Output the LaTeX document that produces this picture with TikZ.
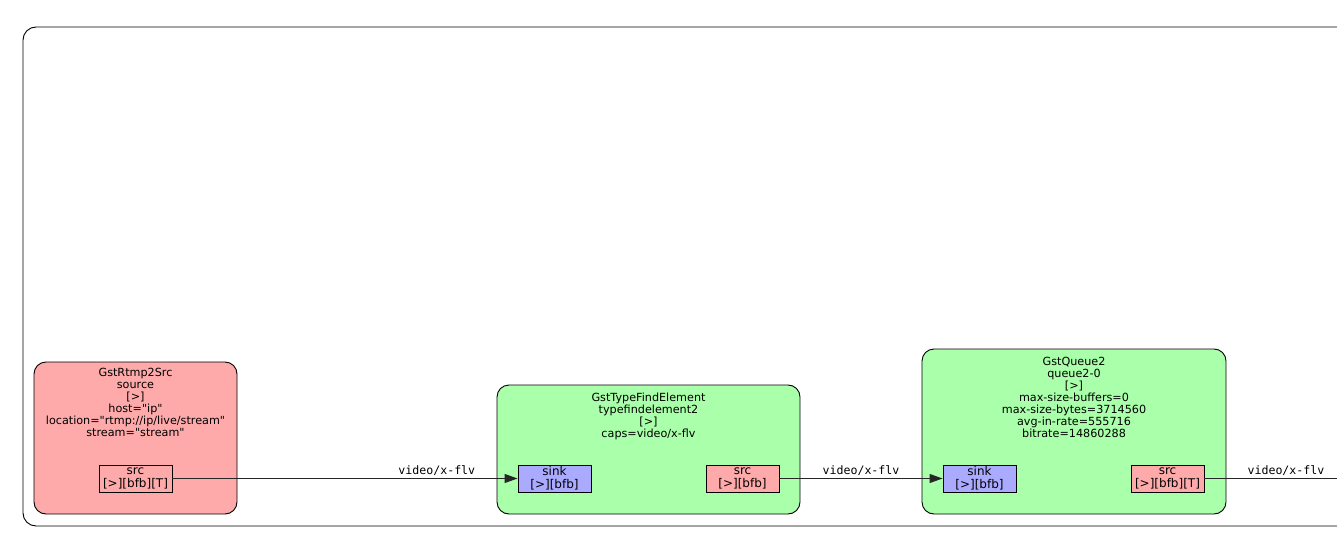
\documentclass[tikz,border=0pt]{standalone}
\usepackage{fontspec}
\setmainfont{DejaVu Sans}
\setmonofont{DejaVu Sans Mono}
\usetikzlibrary{arrows.meta}
\definecolor{srcred}{HTML}{FFAAAA}
\definecolor{elgreen}{HTML}{AAFFAA}
\definecolor{sinkblue}{HTML}{AAAAFF}
\newcommand{\dq}{\XeTeXglyph\XeTeXcharglyph"22\relax}
\tikzset{
  elem/.style={draw=black, rounded corners=12pt, line width=0.9pt},
  padbox/.style={draw=black, line width=0.9pt},
  eltext/.style={align=center, inner sep=0pt, font=\fontsize{11.2}{12}\selectfont, anchor=north},
  padtext/.style={align=center, inner sep=0pt, font=\fontsize{12}{13}\selectfont},
  link/.style={draw=black!85, line width=1.1pt},
  linkarrow/.style={link, -{Triangle[length=13pt,width=9pt]}},
  edgelabel/.style={inner sep=0pt, font=\ttfamily\fontsize{11.6}{13}\selectfont, anchor=south}
}
\begin{document}
\begin{tikzpicture}[x=1pt,y=-1pt]
\useasboundingbox (0,0) rectangle (1337,537);
% outer frame
\draw[line width=0.9pt, rounded corners=13pt] (1345,27) -- (23,27) -- (23,526) -- (1345,526);

% source element
\node[elem, fill=srcred, minimum width=203pt, minimum height=152pt, inner sep=0pt] (srcel) at (135.5,438) {};
\node[eltext] (srclbl) at (135.5,368) {GstRtmp2Src\\source\\{[>]}\\host=\dq ip\dq\\location=\dq rtmp://ip/live/stream\dq\\stream=\dq stream\dq};
\node[padbox, fill=srcred, minimum width=73pt, minimum height=27pt, inner sep=0pt] (srcpad) at (135.5,478.5) {};
\node[padtext] (srcpadl) at (srcpad) {src\\{[>][bfb][T]}};

% typefind element
\node[elem, fill=elgreen, minimum width=303pt, minimum height=129pt, inner sep=0pt] (tfel) at (648.5,449.5) {};
\node[eltext] (tflbl) at (648.5,392.5) {GstTypeFindElement\\typefindelement2\\{[>]}\\caps=video/x-flv};
\node[padbox, fill=sinkblue, minimum width=73pt, minimum height=27pt, inner sep=0pt] (tfsink) at (554.5,478.5) {};
\node[padtext] (tfsinkl) at (tfsink) {sink\\{[>][bfb]}};
\node[padbox, fill=srcred, minimum width=73pt, minimum height=27pt, inner sep=0pt] (tfsrc) at (742.5,478.5) {};
\node[padtext] (tfsrcl) at (tfsrc) {src\\{[>][bfb]}};

% queue2 element
\node[elem, fill=elgreen, minimum width=304pt, minimum height=165pt, inner sep=0pt] (qel) at (1074,431.5) {};
\node[eltext] (qlbl) at (1074,356.5) {GstQueue2\\queue2-0\\{[>]}\\max-size-buffers=0\\max-size-bytes=3714560\\avg-in-rate=555716\\bitrate=14860288};
\node[padbox, fill=sinkblue, minimum width=73pt, minimum height=27pt, inner sep=0pt] (qsink) at (979.5,478.5) {};
\node[padtext] (qsinkl) at (qsink) {sink\\{[>][bfb]}};
\node[padbox, fill=srcred, minimum width=73pt, minimum height=27pt, inner sep=0pt] (qsrc) at (1167.5,478.5) {};
\node[padtext] (qsrcl) at (qsrc) {src\\{[>][bfb][T]}};

\coordinate (qout) at (1345,478.5);

% links
\draw[linkarrow] (srcpad.east) -- node[edgelabel, pos=0.766, above=2pt] {video/x-flv} (tfsink.west);
\draw[linkarrow] (tfsrc.east) -- node[edgelabel, pos=0.5, above=2pt] {video/x-flv} (qsink.west);
\draw[link] (qsrc.east) -- node[edgelabel, pos=0.58, above=2pt] {video/x-flv} (qout);
\end{tikzpicture}
\end{document}
